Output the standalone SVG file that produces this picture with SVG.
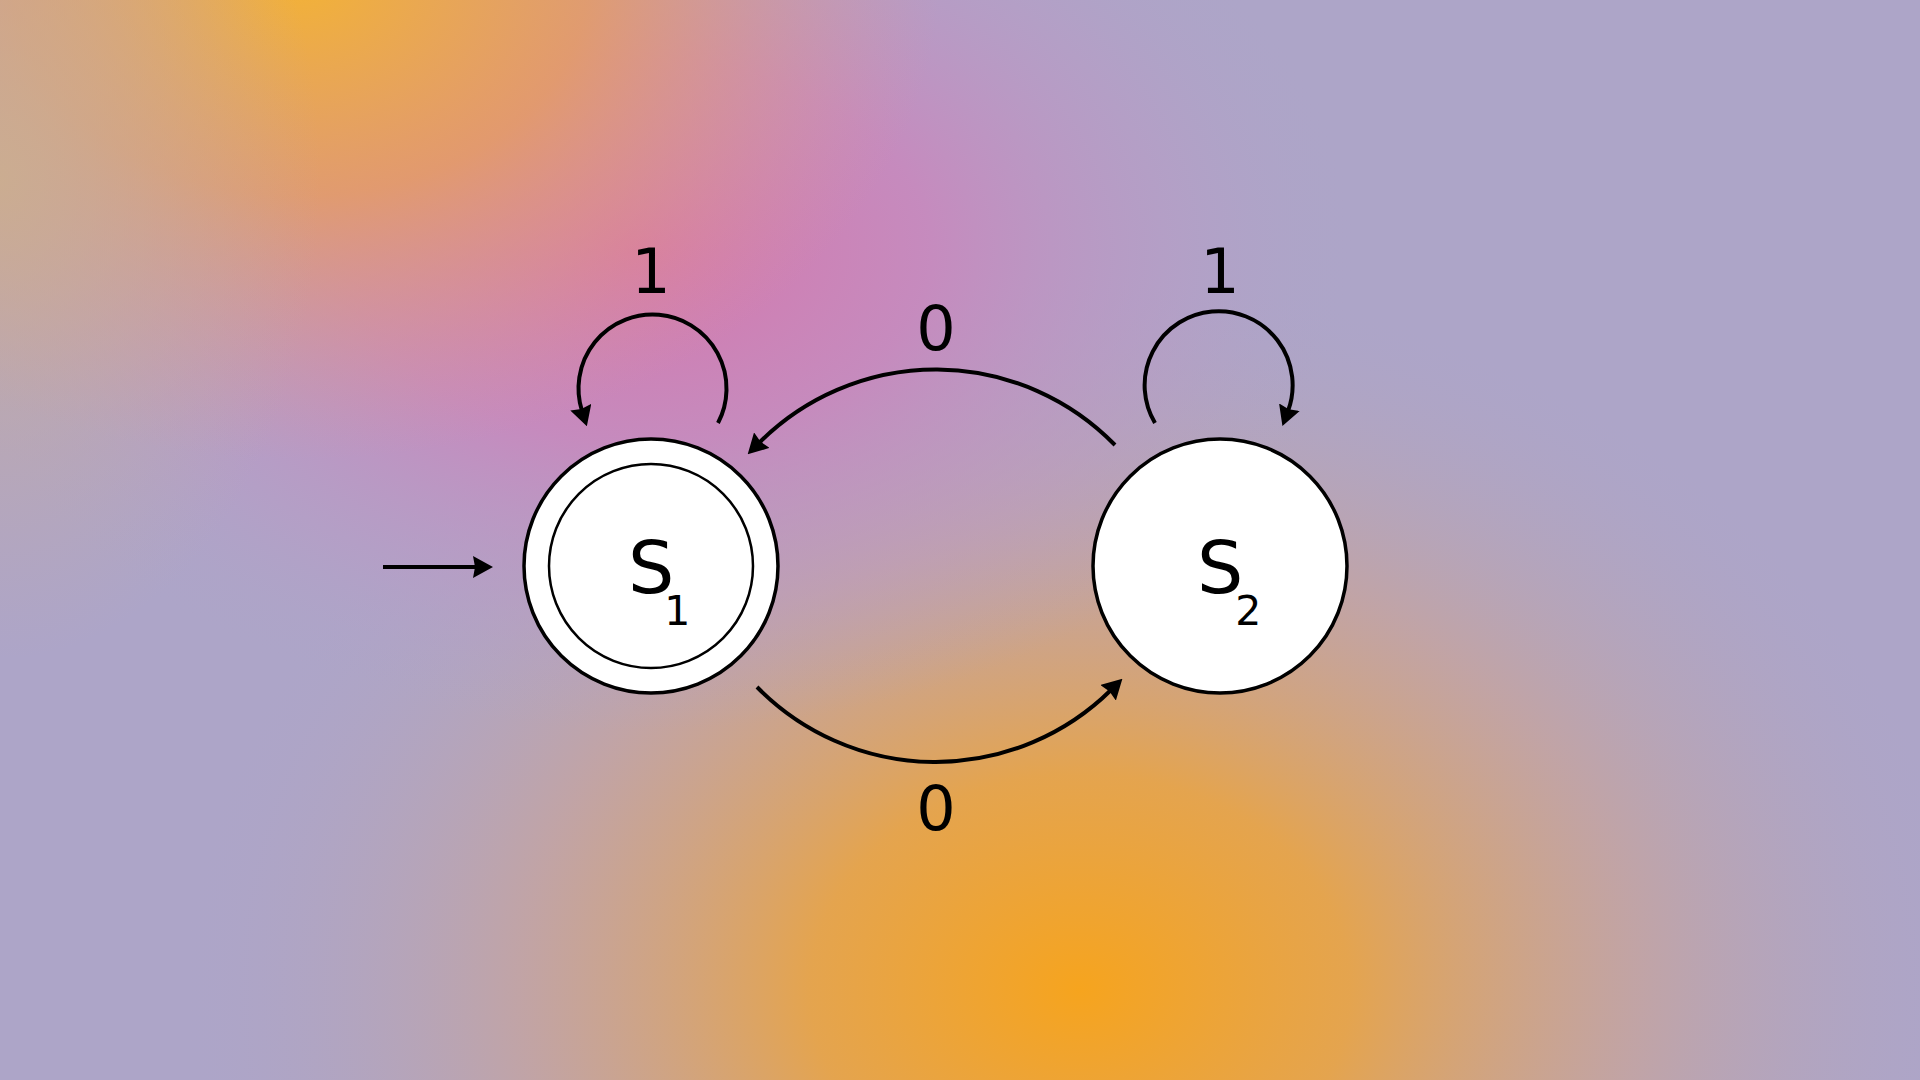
<svg xmlns="http://www.w3.org/2000/svg" width="1920" height="1080" viewBox="0 0 1920 1080">
  <defs>
    <radialGradient id="gOrange" gradientUnits="userSpaceOnUse" cx="1080" cy="990" r="1" gradientTransform="translate(1080 990) scale(900 720) translate(-1080 -990)">
      <stop offset="0" stop-color="#f6a41e" stop-opacity="1"/>
      <stop offset="0.3" stop-color="#e9a444" stop-opacity="0.92"/>
      <stop offset="0.62" stop-color="#cfa38e" stop-opacity="0.6"/>
      <stop offset="1" stop-color="#ada5c8" stop-opacity="0"/>
    </radialGradient>
    <radialGradient id="gPink" gradientUnits="userSpaceOnUse" cx="640" cy="250" r="1" gradientTransform="translate(640 250) scale(720 480) translate(-640 -250)">
      <stop offset="0" stop-color="#d677ab" stop-opacity="1"/>
      <stop offset="0.4" stop-color="#ca86bc" stop-opacity="0.85"/>
      <stop offset="0.75" stop-color="#bc98c4" stop-opacity="0.4"/>
      <stop offset="1" stop-color="#ada5c8" stop-opacity="0"/>
    </radialGradient>
    <radialGradient id="gYellow" gradientUnits="userSpaceOnUse" cx="300" cy="-20" r="1" gradientTransform="translate(300 -20) scale(640 480) translate(-300 20)">
      <stop offset="0" stop-color="#f3b236" stop-opacity="1"/>
      <stop offset="0.45" stop-color="#e89e5c" stop-opacity="0.8"/>
      <stop offset="1" stop-color="#d89a98" stop-opacity="0"/>
    </radialGradient>
    <radialGradient id="gBeige" gradientUnits="userSpaceOnUse" cx="0" cy="180" r="1" gradientTransform="translate(0 180) scale(320 480) translate(0 -180)">
      <stop offset="0" stop-color="#cbae90" stop-opacity="0.9"/>
      <stop offset="1" stop-color="#c4a8a8" stop-opacity="0"/>
    </radialGradient>
    <marker id="arrow" viewBox="0 0 20 22" refX="4" refY="11" markerWidth="20" markerHeight="22" markerUnits="userSpaceOnUse" orient="auto">
      <path d="M0,0 L20,11 L0,22 L2,11 z" fill="#000"/>
    </marker>
    <style>
      .state { fill: #ffffff; stroke: #000000; stroke-width: 3.5; }
      .inner { fill: none; stroke: #000000; stroke-width: 2.5; }
      .edge { fill: none; stroke: #000000; stroke-width: 4; marker-end: url(#arrow); }
      .lbl { font-family: "DejaVu Sans", "Liberation Sans", sans-serif; fill: #000000; }
      .big { font-size: 73px; }
      .elbl { font-size: 62px; text-anchor: middle; }
    </style>
  </defs>

  <g id="background">
    <rect x="0" y="0" width="1920" height="1080" fill="#ada5c8"/>
    <rect x="0" y="0" width="1920" height="1080" fill="url(#gOrange)"/>
    <rect x="0" y="0" width="1920" height="1080" fill="url(#gPink)"/>
    <rect x="0" y="0" width="1920" height="1080" fill="url(#gYellow)"/>
    <rect x="0" y="0" width="1920" height="1080" fill="url(#gBeige)"/>
  </g>

  <g id="connectors">
    <path id="start" class="edge" d="M 383 567 L 477 567"/>
    <path id="loop1" class="edge" d="M 718 423 A 74 74 0 1 0 582 411"/>
    <path id="loop2" class="edge" d="M 1155 423 A 74 74 0 1 1 1288 411"/>
    <path id="s2s1" class="edge" d="M 1115 445 A 250 250 0 0 0 759 443"/>
    <path id="s1s2" class="edge" d="M 757 687 A 250 250 0 0 0 1111 690"/>
    <text class="lbl elbl" x="651" y="293">1</text>
    <text class="lbl elbl" x="1220" y="293">1</text>
    <text class="lbl elbl" x="936" y="350">0</text>
    <text class="lbl elbl" x="936" y="830">0</text>
  </g>

  <g id="S1">
    <circle class="state" cx="651" cy="566" r="127"/>
    <circle class="inner" cx="651" cy="566" r="102"/>
    <text class="lbl big" x="628" y="593">S<tspan dx="-10" dy="32" font-size="41">1</tspan></text>
  </g>

  <g id="S2">
    <circle class="state" cx="1220" cy="566" r="127"/>
    <text class="lbl big" x="1197" y="593">S<tspan dx="-8" dy="32" font-size="41">2</tspan></text>
  </g>
</svg>
